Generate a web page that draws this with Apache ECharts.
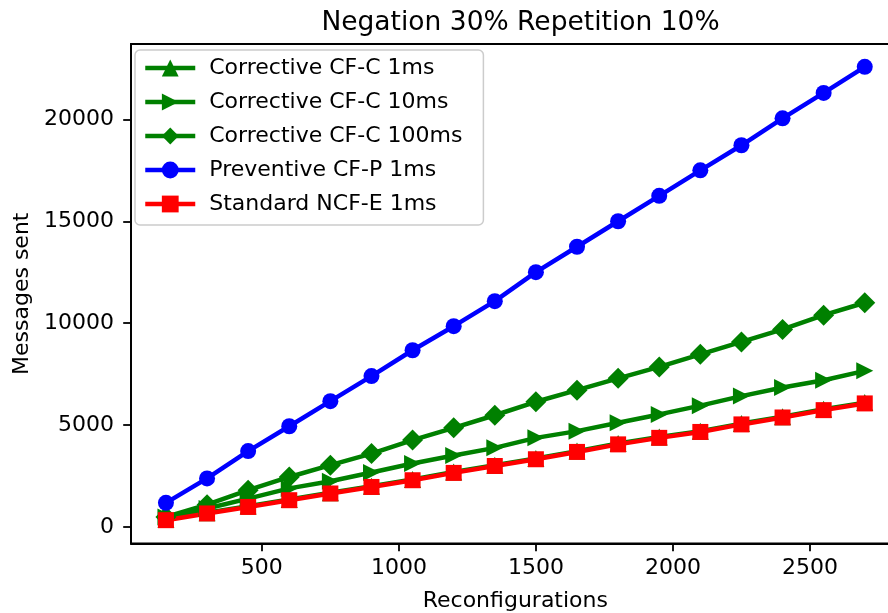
<!DOCTYPE html>
<html>
<head>
<meta charset="utf-8">
<script src="https://cdn.jsdelivr.net/npm/echarts@6/dist/echarts.min.js"></script>
<style>
html,body{margin:0;padding:0;background:#fff;overflow:hidden;width:888px;height:613px;}
#chart{width:900px;height:613px;}
</style>
</head>
<body>
<div id="chart"></div>
<script>
const reconfigurations = [150, 300, 450, 600, 750, 900, 1050, 1200, 1350, 1500, 1650, 1800, 1950, 2100, 2250, 2400, 2550, 2700];
const corrective1ms   = [370, 700, 1020, 1350, 1680, 2000, 2330, 2690, 3030, 3360, 3720, 4090, 4410, 4700, 5070, 5410, 5770, 6100];
const corrective10ms  = [480, 900, 1390, 1890, 2240, 2670, 3110, 3500, 3880, 4370, 4700, 5110, 5520, 5950, 6420, 6840, 7200, 7660];
const corrective100ms = [490, 1090, 1800, 2450, 3030, 3600, 4260, 4860, 5480, 6140, 6710, 7290, 7850, 8470, 9080, 9690, 10390, 11000];
const preventive1ms   = [1180, 2380, 3720, 4940, 6170, 7400, 8670, 9850, 11080, 12500, 13750, 15000, 16250, 17500, 18730, 20050, 21300, 22580];
const standard1ms     = [330, 660, 980, 1310, 1640, 1960, 2290, 2650, 2990, 3320, 3680, 4050, 4370, 4660, 5030, 5370, 5730, 6060];
const xTicks = [500, 1000, 1500, 2000, 2500];
const yTicks = [0, 5000, 10000, 15000, 20000];
const seriesNames = ['Corrective CF-C 1ms', 'Corrective CF-C 10ms', 'Corrective CF-C 100ms', 'Preventive CF-P 1ms', 'Standard NCF-E 1ms'];
const seriesColors = ['#008000', '#008000', '#008000', '#0000ff', '#ff0000'];

const FONT = 'DejaVu Sans';
const pairs = ys => reconfigurations.map((x, i) => [x, ys[i]]);

function mk(name, ys, color, symbol, size, rotate) {
  return {
    name: name, type: 'line', data: pairs(ys),
    symbol: symbol, symbolSize: size, symbolRotate: rotate || 0,
    showSymbol: true, animation: false,
    lineStyle: { color: color, width: 4.5 },
    itemStyle: { color: color, borderWidth: 0 },
    emphasis: { disabled: true }
  };
}

const chart = echarts.init(document.getElementById('chart'), null, { renderer: 'canvas' });
chart.setOption({
  backgroundColor: '#ffffff',
  animation: false,
  title: {
    text: 'Negation 30% Repetition 10%',
    left: 515.5, top: 5, textAlign: 'center',
    textStyle: { fontFamily: FONT, fontSize: 26.5, fontWeight: 'normal', color: '#000' }
  },
  legend: {
    orient: 'vertical', left: 135, top: 50,
    data: seriesNames.map((n, i) => ({ name: n, lineStyle: { width: 4.5, color: seriesColors[i] } })),
    itemWidth: 50, itemHeight: 21, itemGap: 12,
    padding: [7, 21, 10, 8],
    borderColor: '#cccccc', borderWidth: 1.5, borderRadius: 5,
    backgroundColor: 'rgba(255,255,255,0.8)',
    textStyle: { fontFamily: FONT, fontSize: 22, color: '#000', padding: [0, 0, 0, 9] }
  },
  grid: {
    left: 131, right: 0.3, top: 44, bottom: 69.5,
    outerBoundsMode: 'none',
    show: true, borderColor: '#000', borderWidth: 1.8, containLabel: false
  },
  xAxis: {
    type: 'value', min: 22.5, max: 2827.5,
    name: 'Reconfigurations', nameLocation: 'middle', nameGap: 47,
    nameTextStyle: { fontFamily: FONT, fontSize: 22, color: '#000' },
    axisLine: { show: true, onZero: false, lineStyle: { color: '#000', width: 1.8 } },
    axisTick: { show: true, length: 7.8, lineStyle: { color: '#000', width: 1.8 }, customValues: xTicks },
    axisLabel: { fontFamily: FONT, fontSize: 22, color: '#000', margin: 14, customValues: xTicks, formatter: v => String(v) },
    splitLine: { show: false }
  },
  yAxis: {
    type: 'value', min: -815, max: 23700,
    name: 'Messages sent', nameLocation: 'middle', nameGap: 96, nameRotate: 90,
    nameTextStyle: { fontFamily: FONT, fontSize: 22, color: '#000' },
    axisLine: { show: true, onZero: false, lineStyle: { color: '#000', width: 1.8 } },
    axisTick: { show: true, length: 7.8, lineStyle: { color: '#000', width: 1.8 }, customValues: yTicks },
    axisLabel: { fontFamily: FONT, fontSize: 22, color: '#000', margin: 17, customValues: yTicks, formatter: v => String(v) },
    splitLine: { show: false }
  },
  series: [
    mk(seriesNames[0], corrective1ms, seriesColors[0], 'triangle', 17),
    mk(seriesNames[1], corrective10ms, seriesColors[1], 'triangle', 17, -90),
    mk(seriesNames[2], corrective100ms, seriesColors[2], 'diamond', 21),
    mk(seriesNames[3], preventive1ms, seriesColors[3], 'circle', 16),
    mk(seriesNames[4], standard1ms, seriesColors[4], 'rect', 16)
  ]
});
</script>
</body>
</html>
